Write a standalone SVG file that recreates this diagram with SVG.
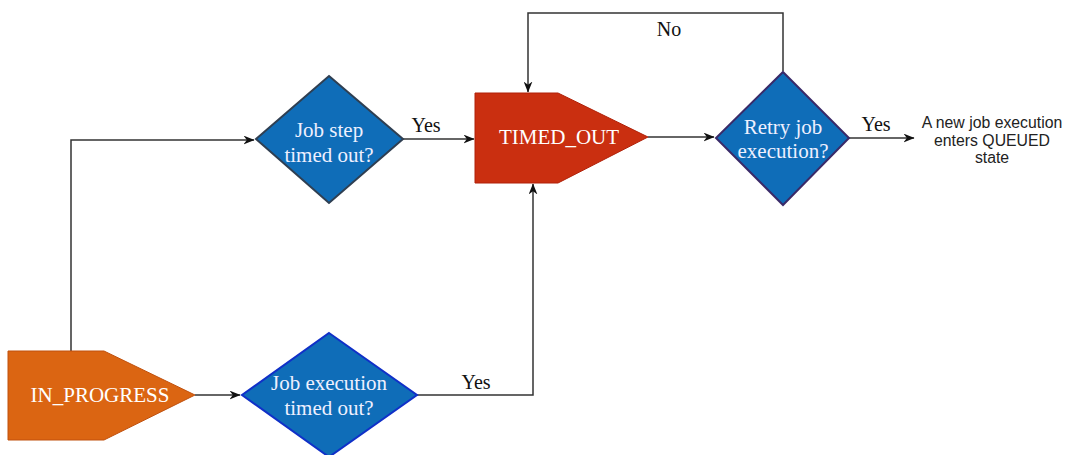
<svg xmlns="http://www.w3.org/2000/svg" width="1069" height="455" viewBox="0 0 1069 455">
<defs>
<marker id="arr" viewBox="0 0 10 8" refX="9.5" refY="4" markerWidth="11" markerHeight="9" markerUnits="userSpaceOnUse" orient="auto">
<path d="M0,0 L10,4 L0,8 L3,4 z" fill="#111"/>
</marker>
</defs>
<style>
.edge{fill:none;stroke:#333;stroke-width:1.5}
.lbl{font-family:"Liberation Serif",serif;font-size:20px;fill:#111;text-anchor:middle}
.nt{font-family:"Liberation Serif",serif;font-size:21px;fill:#fff;text-anchor:middle}
.dt{font-family:"Liberation Serif",serif;font-size:21px;fill:#eef0ff;text-anchor:middle}
.dia{fill:#0f6db8;stroke-width:2}
.sans{font-family:"Liberation Sans",Arial,sans-serif;font-size:15.8px;fill:#222;text-anchor:middle}
</style>
<g id="connectors">
<path class="edge" d="M71,351 V140 H254" marker-end="url(#arr)"/>
<path class="edge" d="M195,395 H240" marker-end="url(#arr)"/>
<path class="edge" d="M403,139 L474,139" marker-end="url(#arr)"/>
<path class="edge" d="M417,395 H533 V184" marker-end="url(#arr)"/>
<path class="edge" d="M648,137 H714" marker-end="url(#arr)"/>
<path class="edge" d="M783,71 V13 H528 V92" marker-end="url(#arr)"/>
<path class="edge" d="M849,138 H914" marker-end="url(#arr)"/>
<text class="lbl" x="426" y="132">Yes</text>
<text class="lbl" x="476" y="389">Yes</text>
<text class="lbl" x="669" y="36">No</text>
<text class="lbl" x="876" y="131">Yes</text>
</g>
<g id="in_progress">
<path d="M8,351 H104 L195,395 L104,440 H8 Z" fill="#db6512" stroke="#c0500d" stroke-width="1"/>
<text class="nt" x="100" y="402">IN_PROGRESS</text>
</g>
<g id="job_step">
<path class="dia" d="M329,76 L403,139 L329,203 L256,139 Z" stroke="#2f3f52"/>
<text class="dt" x="329" y="137">Job step</text>
<text class="dt" x="329" y="162">timed out?</text>
</g>
<g id="job_execution">
<path class="dia" d="M329,333 L417,395 L329,457 L242,395 Z" stroke="#1030c8"/>
<text class="dt" x="329" y="390">Job execution</text>
<text class="dt" x="329" y="415">timed out?</text>
</g>
<g id="timed_out">
<path d="M475,93 H558 L648,137 L558,183 H475 Z" fill="#ca2f10" stroke="#b02008" stroke-width="1"/>
<text class="nt" x="559" y="144">TIMED_OUT</text>
</g>
<g id="retry">
<path class="dia" d="M783,72 L849,138 L783,205 L716,138 Z" stroke="#3a2a68"/>
<text class="dt" x="783" y="134">Retry job</text>
<text class="dt" x="783" y="158">execution?</text>
</g>
<g id="queued">
<text class="sans" x="992" y="128">A new job execution</text>
<text class="sans" x="992" y="145.5">enters QUEUED</text>
<text class="sans" x="992" y="163">state</text>
</g>
</svg>
